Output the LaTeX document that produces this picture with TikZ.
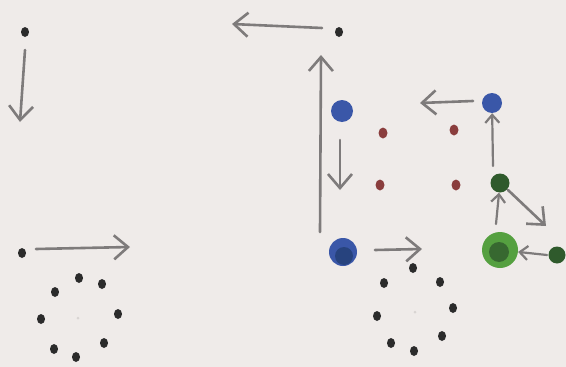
\documentclass[tikz,border=0pt]{standalone}
\usepackage{xcolor}
\usepackage{tikz}
\usetikzlibrary{arrows.meta,shapes.geometric}
\definecolor{paper}{HTML}{EFEBE9}
\definecolor{ink}{HTML}{2B2B2B}
\definecolor{pencil}{HTML}{7E7B7B}
\definecolor{blu}{HTML}{3A57A8}
\definecolor{bludark}{HTML}{27437E}
\definecolor{rd}{HTML}{8A3D3D}
\definecolor{grn}{HTML}{2F5A2C}
\definecolor{grnlt}{HTML}{55A040}
\definecolor{faint}{HTML}{D8D4D2}
\tikzset{
  dot/.style={ellipse, fill=ink, inner sep=0pt, minimum width=8pt, minimum height=10pt},
  rdot/.style={ellipse, fill=rd, inner sep=0pt, minimum width=9pt, minimum height=11pt},
  ctr/.style={circle, fill=faint, inner sep=0pt, minimum size=3pt},
  bdot/.style={circle, fill=blu, inner sep=0pt, minimum size=#1},
  gdot/.style={circle, fill=grn, inner sep=0pt, minimum size=#1},
  arr/.style={draw=pencil, line width=2.6pt, line cap=round,
    -{Straight Barb[length=14pt,width=24pt,line width=2.6pt]}},
  sarr/.style={draw=pencil, line width=2.2pt, line cap=round,
    -{Straight Barb[length=8pt,width=14pt,line width=2.2pt]}},
}
\begin{document}
\begin{tikzpicture}[x=1pt,y=-1pt]
  \fill[paper] (0,0) rectangle (566,367);
  \useasboundingbox (0,0) rectangle (566,367);

  % left half
  \node[dot] (p) at (25,32) {};
  \coordinate (pdown) at (20,122);
  \draw[arr] (p) ++(0,18) -- (pdown);

  \node[dot] (q) at (22,253) {};
  \coordinate (qright) at (130,247);
  \draw[arr] (q) ++(14,-4) -- (qright);

  \node[ctr] (lc) at (78,318) {};
  \foreach \x/\y [count=\i] in {79/278,102/284,118/314,104/343,76/357,54/349,41/319,55/292}
    \node[dot] (l\i) at (\x,\y) {};

  % right half
  \node[dot] (top) at (339,32) {};
  \coordinate (topleft) at (232,24);
  \draw[arr] (top) ++(-17,-4) -- (topleft);

  \node[bdot=28pt] (bl) at (343,252) {};
  \fill[bludark] (344,256) circle (9);
  \coordinate (blup) at (321,55);
  \draw[arr] (320,232) -- (blup);

  \node[bdot=22pt] (bt) at (342,111) {};
  \coordinate (btdown) at (340,190);
  \draw[arr] (bt) ++(-2,29) -- (btdown);

  \node[rdot] (r1) at (383,133) {};
  \node[rdot] (r2) at (454,130) {};
  \node[rdot] (r3) at (380,185) {};
  \node[rdot] (r4) at (456,185) {};

  \node[bdot=20pt] (bu) at (492,103) {};
  \coordinate (buleft) at (420,103);
  \draw[arr] (bu) ++(-19,-2) -- (buleft);

  \node[gdot=19pt] (gs) at (500,183) {};
  \draw[sarr] (493,166) -- (bu);

  \node[circle, fill=grnlt, inner sep=0pt, minimum size=36pt] (gb) at (500,250) {};
  \fill[grn!80!grnlt] (499,252) circle (10);
  \draw[sarr] (496,224) -- (gs);

  \coordinate (gsdiag) at (546,226);
  \draw[arr] (gs) ++(8,7) -- (gsdiag);

  \node[gdot=17pt] (gr) at (557,255) {};
  \draw[sarr] (gr) ++(-10,0) -- (gb);

  \coordinate (blright) at (422,249);
  \draw[arr] (bl) ++(32,-2) -- (blright);

  \node[ctr] (rc) at (415,312) {};
  \foreach \x/\y [count=\i] in {413/268,440/282,453/308,442/336,414/351,391/343,377/316,384/283}
    \node[dot] (k\i) at (\x,\y) {};
\end{tikzpicture}
\end{document}
